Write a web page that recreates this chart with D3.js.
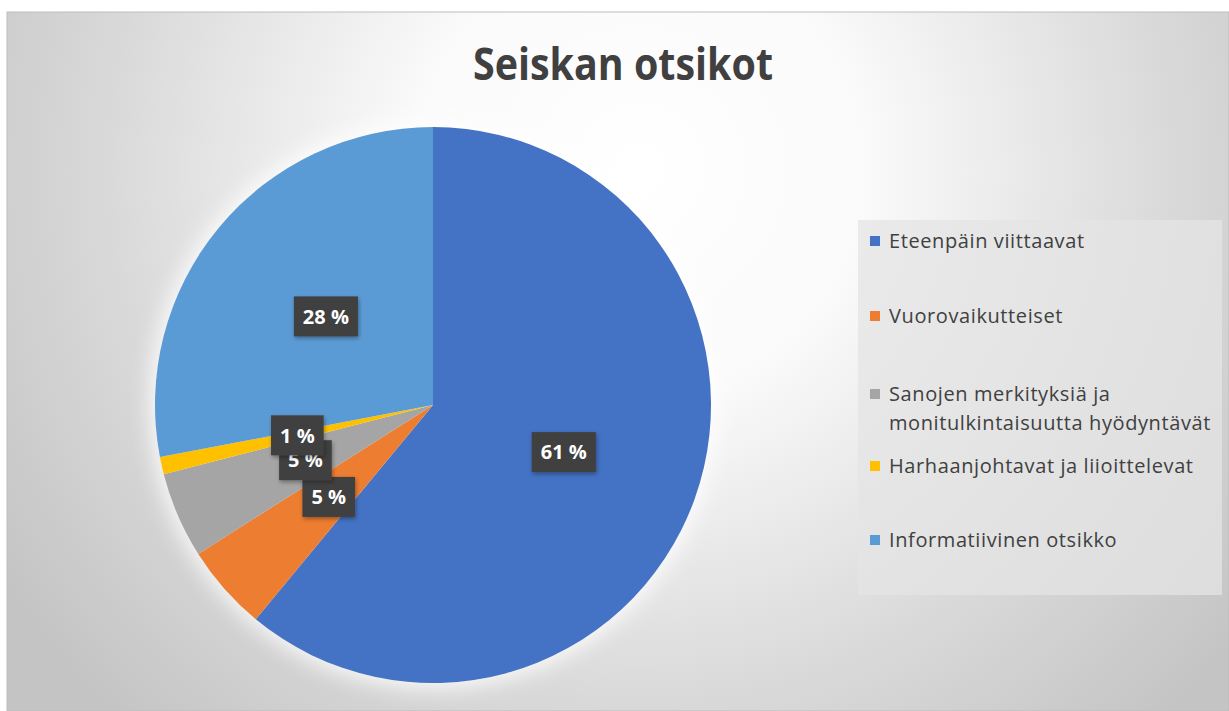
<!DOCTYPE html>
<html>
<head>
<meta charset="utf-8">
<script src="https://cdn.jsdelivr.net/npm/d3@7"></script>
<style>
  html, body { margin: 0; padding: 0; background: #fff; }
  svg { display: block; }
</style>
</head>
<body>
<div id="chart"></div>
<script>
// Data
const categories = [
  'Eteenpäin viittaavat',
  'Vuorovaikutteiset',
  'Sanojen merkityksiä ja monitulkintaisuutta hyödyntävät',
  'Harhaanjohtavat ja liioittelevat',
  'Informatiivinen otsikko'
];
const legendLines = [
  ['Eteenpäin viittaavat'],
  ['Vuorovaikutteiset'],
  ['Sanojen merkityksiä ja', 'monitulkintaisuutta hyödyntävät'],
  ['Harhaanjohtavat ja liioittelevat'],
  ['Informatiivinen otsikko']
];
const values = [61, 5, 5, 1, 28];
const colors = ['#4472C4', '#ED7D31', '#A5A5A5', '#FFC000', '#5B9BD5'];
const title = 'Seiskan otsikot';

const width = 1229, height = 711;
const cx = 433, cy = 405, radius = 278;

const svg = d3.select('#chart').append('svg')
  .attr('width', width)
  .attr('height', height);

const defs = svg.append('defs');

// background gradient
const bg = defs.append('radialGradient')
  .attr('id', 'bgGrad')
  .attr('gradientUnits', 'userSpaceOnUse')
  .attr('cx', 640).attr('cy', 170).attr('r', 760);
bg.append('stop').attr('offset', '0%').attr('stop-color', '#ffffff');
bg.append('stop').attr('offset', '30%').attr('stop-color', '#fafafa');
bg.append('stop').attr('offset', '70%').attr('stop-color', '#d9d9d9');
bg.append('stop').attr('offset', '100%').attr('stop-color', '#c4c4c4');

const glow = defs.append('filter').attr('id', 'glow')
  .attr('x', '-20%').attr('y', '-20%').attr('width', '140%').attr('height', '140%');
glow.append('feGaussianBlur').attr('stdDeviation', 10);

const shadow = defs.append('filter').attr('id', 'shadow')
  .attr('x', '-30%').attr('y', '-30%').attr('width', '160%').attr('height', '160%');
shadow.append('feDropShadow')
  .attr('dx', 1).attr('dy', 2).attr('stdDeviation', 2)
  .attr('flood-color', '#000').attr('flood-opacity', 0.35);

// chart area
svg.append('rect')
  .attr('x', 7).attr('y', 12)
  .attr('width', width - 7).attr('height', height - 12)
  .attr('fill', 'url(#bgGrad)')
  .attr('stroke', '#bdbdbd')
  .attr('stroke-width', 1);

// title (tall, narrow look of the original)
svg.append('text')
  .attr('x', 623).attr('y', 80)
  .attr('text-anchor', 'middle')
  .attr('font-family', '"Open Sans", sans-serif')
  .attr('font-weight', 700)
  .attr('font-size', 44)
  .attr('fill', '#404040')
  .attr('textLength', 300)
  .attr('lengthAdjust', 'spacingAndGlyphs')
  .text(title);

// pie
const pie = d3.pie().sort(null).value(d => d);
const arcs = pie(values);
const arc = d3.arc().innerRadius(0).outerRadius(radius);

const g = svg.append('g').attr('transform', `translate(${cx},${cy})`);

// soft halo behind the pie
g.append('circle')
  .attr('r', radius + 6)
  .attr('fill', '#ffffff')
  .attr('opacity', 0.8)
  .attr('filter', 'url(#glow)');

g.selectAll('path.slice')
  .data(arcs)
  .join('path')
  .attr('class', 'slice')
  .attr('d', arc)
  .attr('fill', (d, i) => colors[i]);

// data labels
const labels = g.selectAll('g.label')
  .data(arcs)
  .join('g')
  .attr('class', 'label')
  .attr('transform', d => `translate(${arc.centroid(d)})`);

labels.each(function(d) {
  const lg = d3.select(this);
  const rect = lg.append('rect').attr('fill', '#404040').attr('filter', 'url(#shadow)');
  const t = lg.append('text')
    .attr('text-anchor', 'middle')
    .attr('dy', '0.36em')
    .attr('font-family', '"Open Sans", sans-serif')
    .attr('font-weight', 700)
    .attr('font-size', 20)
    .attr('fill', '#ffffff')
    .text(d.data + ' %');
  const bb = t.node().getBBox();
  rect.attr('x', bb.x - 9).attr('y', -20)
    .attr('width', bb.width + 18).attr('height', 40);
});

// legend
const legend = svg.append('g');
legend.append('rect')
  .attr('x', 858).attr('y', 220)
  .attr('width', 364).attr('height', 375)
  .attr('fill', '#e4e4e4')
  .attr('opacity', 0.75);

const legendY = [241, 316, 394, 466, 540];
const items = legend.selectAll('g.item')
  .data(categories)
  .join('g')
  .attr('class', 'item')
  .attr('transform', (d, i) => `translate(870,${legendY[i]})`);

items.append('rect')
  .attr('x', 0).attr('y', -5)
  .attr('width', 10).attr('height', 10)
  .attr('fill', (d, i) => colors[i]);

items.append('text')
  .attr('x', 19)
  .attr('font-family', '"Open Sans", sans-serif')
  .attr('font-size', 20)
  .attr('letter-spacing', 0.6)
  .attr('fill', '#404040')
  .selectAll('tspan')
  .data((d, i) => legendLines[i])
  .join('tspan')
  .attr('x', 19)
  .attr('dy', (d, j) => j === 0 ? '0.35em' : 29)
  .text(d => d);
</script>
</body>
</html>
